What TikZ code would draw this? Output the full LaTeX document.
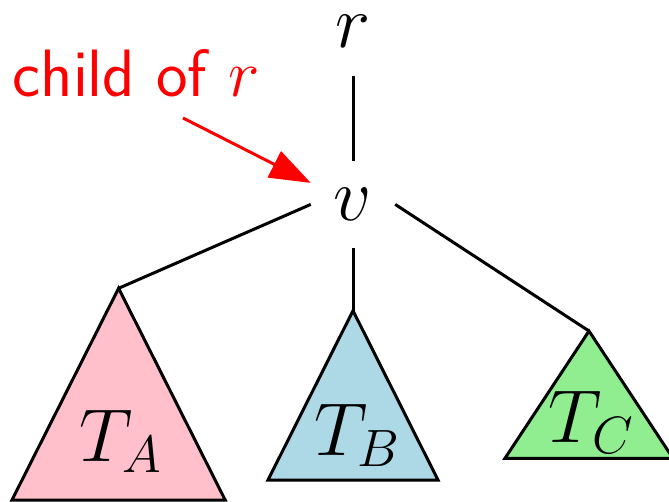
\RequirePackage{fix-cm}
\documentclass[tikz,border=0pt]{standalone}
\usepackage{xcolor}
\usepackage{tikz}
\usetikzlibrary{positioning, arrows.meta}

\definecolor{treepink}{RGB}{255,192,203}
\definecolor{treeblue}{RGB}{173,216,230}
\definecolor{treegreen}{RGB}{144,238,144}

\begin{document}
\begin{tikzpicture}[
    x=1pt, y=-1pt,
    vertex/.style={minimum width=84pt, minimum height=87pt, inner sep=0pt, font=\fontsize{75}{80}\selectfont},
    subtree/.style={draw, line width=3pt},
    treelabel/.style={anchor=base, inner sep=0pt, font=\fontsize{75}{80}\selectfont},
    edge/.style={line width=3pt},
    pointer/.style={-{Triangle[length=41pt, width=29pt]}, line width=3pt, red}
]

\useasboundingbox (0,0) rectangle (669,502);

% Nodes
\node[vertex, minimum height=0pt, text height=32pt, text depth=27.5pt, anchor=base] (r) at (353,48) {$r$};
\node[vertex, below=85pt of r] (v) {$v$};
\node[anchor=base, inner sep=0pt, red, font=\sffamily\fontsize{67}{72}\selectfont] (childof) at (136,96.7) {child of $r$};

\coordinate (topA) at (118.6,288.3);
\coordinate (topB) at (353,310.7);
\coordinate (topC) at (589,331);
\coordinate (tail) at (183,118);

% Subtrees
\draw[subtree, fill=treepink] (topA) -- ++(-106.6,211.7) -- ++(213.2,0) -- cycle;
\draw[subtree, fill=treeblue] (topB) -- ++(-85,169.3) -- ++(170,0) -- cycle;
\draw[subtree, fill=treegreen] (topC) -- ++(-84,127.3) -- ++(168,0) -- cycle;

\node[treelabel] (ta) at (120.5,461.7) {$T_A$};
\node[treelabel] (tb) at (357,455) {$T_B$};
\node[treelabel] (tc) at (591,442.7) {$T_C$};

% Edges
\draw[edge] (r) -- (v);
\draw[edge] (v.west) -- (topA);
\draw[edge] (v) -- (topB);
\draw[edge] (v.east) -- (topC);
\draw[pointer] (tail) -- (v.153);

\end{tikzpicture}
\end{document}
